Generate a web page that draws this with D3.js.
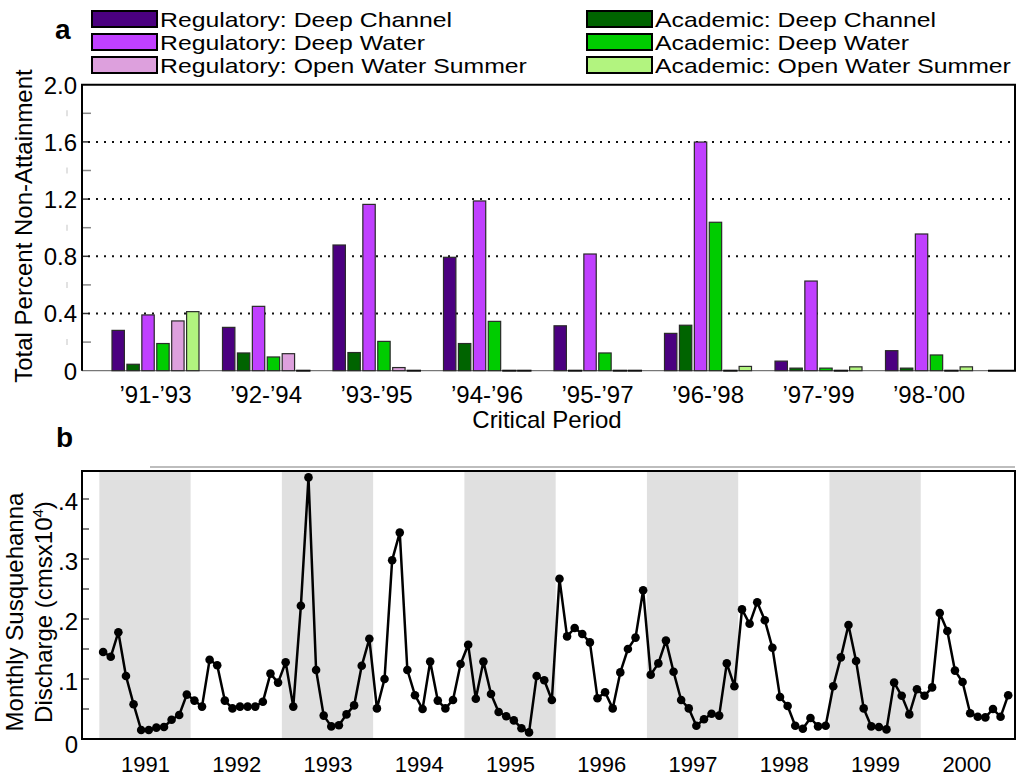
<!DOCTYPE html>
<html>
<head>
<meta charset="utf-8">
<script src="https://cdn.jsdelivr.net/npm/d3@7"></script>
<style>
  html, body { margin: 0; padding: 0; background: #fff; }
  svg { display: block; font-family: "Liberation Sans", Arial, Helvetica, sans-serif; }
</style>
</head>
<body>
<svg id="chart" width="1019" height="779"></svg>
<script>
// ---------- Panel a: non-attainment by critical period ----------
const periods = ["\u201991-\u201993", "\u201992-\u201994", "\u201993-\u201995", "\u201994-\u201996",
                 "\u201995-\u201997", "\u201996-\u201998", "\u201997-\u201999", "\u201998-\u201900"];
const regDeepChannel = [0.282, 0.303, 0.879, 0.793, 0.314, 0.261, 0.067, 0.140];
const acaDeepChannel = [0.045, 0.124, 0.127, 0.190, 0.000, 0.318, 0.018, 0.018];
const regDeepWater   = [0.390, 0.450, 1.163, 1.187, 0.816, 1.599, 0.627, 0.956];
const acaDeepWater   = [0.190, 0.096, 0.205, 0.345, 0.124, 1.038, 0.018, 0.110];
const regOpenWater   = [0.348, 0.119, 0.022, 0.000, 0.000, 0.000, 0.000, 0.000];
const acaOpenWater   = [0.413, 0.000, 0.000, 0.000, 0.000, 0.030, 0.027, 0.027];
const percentTicks = [0, 0.4, 0.8, 1.2, 1.6, 2.0];
const percentMinorTicks = [0.2, 0.6, 1.0, 1.4, 1.8];

// ---------- Panel b: monthly Susquehanna discharge (cms x 10^4) ----------
const dischargeYears = [1991, 1992, 1993, 1994, 1995, 1996, 1997, 1998, 1999, 2000];
const discharge1991 = [0.145, 0.137, 0.178, 0.105, 0.058, 0.015, 0.015, 0.019, 0.020, 0.032, 0.040, 0.074];
const discharge1992 = [0.064, 0.054, 0.132, 0.123, 0.064, 0.051, 0.054, 0.054, 0.054, 0.062, 0.109, 0.094];
const discharge1993 = [0.128, 0.054, 0.222, 0.436, 0.115, 0.039, 0.021, 0.023, 0.041, 0.056, 0.122, 0.167];
const discharge1994 = [0.051, 0.100, 0.298, 0.344, 0.115, 0.073, 0.050, 0.129, 0.064, 0.051, 0.065, 0.125];
const discharge1995 = [0.157, 0.067, 0.129, 0.075, 0.045, 0.038, 0.031, 0.018, 0.011, 0.105, 0.098, 0.065];
const discharge1996 = [0.267, 0.171, 0.185, 0.175, 0.161, 0.068, 0.078, 0.051, 0.111, 0.150, 0.169, 0.248];
const discharge1997 = [0.107, 0.126, 0.164, 0.112, 0.065, 0.051, 0.022, 0.033, 0.042, 0.039, 0.126, 0.088];
const discharge1998 = [0.216, 0.192, 0.228, 0.198, 0.152, 0.070, 0.055, 0.022, 0.017, 0.035, 0.021, 0.022];
const discharge1999 = [0.088, 0.136, 0.190, 0.130, 0.051, 0.021, 0.020, 0.016, 0.094, 0.072, 0.041, 0.083];
const discharge2000 = [0.072, 0.086, 0.210, 0.180, 0.114, 0.095, 0.043, 0.037, 0.036, 0.050, 0.037, 0.073];
const shadedYears = [1991, 1993, 1995, 1997, 1999];
const dischargeTicks = [0, 0.1, 0.2, 0.3, 0.4];
const dischargeMinorTicks = [0.05, 0.15, 0.25, 0.35];

const series = [
  { key: "regDC", label: "Regulatory: Deep Channel",      color: "#4b0080", values: regDeepChannel },
  { key: "acaDC", label: "Academic: Deep Channel",        color: "#006400", values: acaDeepChannel },
  { key: "regDW", label: "Regulatory: Deep Water",        color: "#c040ff", values: regDeepWater },
  { key: "acaDW", label: "Academic: Deep Water",          color: "#00cc00", values: acaDeepWater },
  { key: "regOW", label: "Regulatory: Open Water Summer", color: "#dda0dd", values: regOpenWater },
  { key: "acaOW", label: "Academic: Open Water Summer",   color: "#b2f47f", values: acaOpenWater }
];

const svg = d3.select("#chart");
const FS = 24;

// ================= Panel a =================
const aLeft = 82, aRight = 1015;
const yA = d3.scaleLinear().domain([0, 2]).range([370.7, 84.7]);
const xA = d3.scaleBand().domain(periods).range([100.25, 984.25]);
const xS = d3.scaleBand().domain(series.map(s => s.key)).range([11.75, 98.75]).paddingInner(0.17);

const gA = svg.append("g");

// faint marks outside the left axis
gA.selectAll("line.outer").data(percentMinorTicks).join("line")
  .attr("x1", 67).attr("x2", 67)
  .attr("y1", d => yA(d) - 3).attr("y2", d => yA(d) + 3)
  .attr("stroke", "#cfcfcf").attr("stroke-width", 1.2);

// dotted grid lines
gA.selectAll("line.grid").data(percentTicks.filter(d => d > 0 && d < 2)).join("line")
  .attr("x1", aLeft + 6).attr("x2", aRight)
  .attr("y1", d => yA(d)).attr("y2", d => yA(d))
  .attr("stroke", "#111").attr("stroke-width", 2).attr("stroke-dasharray", "2 6");

// inner ticks
gA.selectAll("line.major").data(percentTicks.filter(d => d > 0 && d < 2)).join("line")
  .attr("x1", aLeft).attr("x2", aLeft + 6)
  .attr("y1", d => yA(d)).attr("y2", d => yA(d))
  .attr("stroke", "#333").attr("stroke-width", 1.5);
gA.selectAll("line.minor").data(percentMinorTicks).join("line")
  .attr("x1", aLeft).attr("x2", aLeft + 9)
  .attr("y1", d => yA(d)).attr("y2", d => yA(d))
  .attr("stroke", "#888").attr("stroke-width", 1.5);

// baseline
gA.append("line")
  .attr("x1", aLeft).attr("x2", 988).attr("y1", yA(0)).attr("y2", yA(0))
  .attr("stroke", "#777").attr("stroke-width", 1.2);

// bars
const groups = gA.selectAll("g.period").data(periods).join("g")
  .attr("transform", d => `translate(${xA(d)},0)`);
groups.selectAll("rect").data((p, i) => series.filter(s => s.values[i] > 0).map(s => ({ s, v: s.values[i] })))
  .join("rect")
  .attr("x", d => xS(d.s.key))
  .attr("width", xS.bandwidth())
  .attr("y", d => yA(d.v))
  .attr("height", d => yA(0) - yA(d.v))
  .attr("fill", d => d.s.color)
  .attr("stroke", "#2a2a2a").attr("stroke-width", 1.2);
groups.selectAll("line.zero").data((p, i) => series.filter(s => s.values[i] === 0).map(s => ({ s })))
  .join("line")
  .attr("x1", d => xS(d.s.key) - 1).attr("x2", d => xS(d.s.key) + xS.bandwidth() + 1)
  .attr("y1", yA(0)).attr("y2", yA(0))
  .attr("stroke", "#111").attr("stroke-width", 2);

// frame (left, top, right and the closing corner)
gA.append("path")
  .attr("d", `M988,${yA(0)}H${aRight}V${yA(2)}H${aLeft}V${yA(0)}`)
  .attr("fill", "none").attr("stroke", "#000").attr("stroke-width", 2);

// y axis labels
const axA = gA.append("g").attr("transform", `translate(${aLeft},0)`)
  .call(d3.axisLeft(yA).tickValues(percentTicks).tickSize(0).tickPadding(5)
    .tickFormat(d => d === 0 ? "0" : d3.format(".1f")(d)));
axA.select(".domain").remove();
axA.selectAll("text").attr("font-size", FS).attr("fill", "#000").attr("font-family", null).attr("dy", "0.35em");

// category labels
const axAx = gA.append("g").attr("transform", `translate(0,${yA(0)})`)
  .call(d3.axisBottom(xA).tickSize(0).tickPadding(15));
axAx.select(".domain").remove();
axAx.selectAll("text").attr("font-size", FS).attr("fill", "#000").attr("font-family", null);

gA.append("text").attr("x", 547).attr("y", 428).attr("text-anchor", "middle")
  .attr("font-size", FS).text("Critical Period");
gA.append("text").attr("transform", "translate(32,226) rotate(-90)").attr("text-anchor", "middle")
  .attr("font-size", FS).text("Total Percent Non-Attainment");
svg.append("text").attr("x", 55).attr("y", 39).attr("font-size", 28).attr("font-weight", "bold").text("a");

// legend: wide lettering, tightly stacked rows
const legendOrder = ["regDC", "regDW", "regOW", "acaDC", "acaDW", "acaOW"];
const legend = svg.append("g").selectAll("g").data(legendOrder.map(k => series.find(s => s.key === k))).join("g")
  .attr("transform", (d, i) => `translate(${i < 3 ? 92 : 587},${[11, 34, 57][i % 3]})`);
legend.append("rect").attr("width", 65).attr("height", 16)
  .attr("fill", d => d.color).attr("stroke", "#000").attr("stroke-width", 2);
legend.append("text").attr("transform", "translate(68,16) scale(1.24,1)")
  .attr("font-size", 20).text(d => d.label);

// ================= Panel b =================
const bLeft = 82, bRight = 1015, bTop = 471, bBottom = 739;
const xB = d3.scaleLinear().domain([1990.81, 2001.033]).range([bLeft, bRight]);
const yB = d3.scaleLinear().domain([0, 0.445]).range([bBottom, 472]);
const monthly = [discharge1991, discharge1992, discharge1993, discharge1994, discharge1995,
                 discharge1996, discharge1997, discharge1998, discharge1999, discharge2000]
  .flatMap((vals, yi) => vals.map((v, m) => ({ t: dischargeYears[yi] + (m + 0.5) / 12, v })));

const gB = svg.append("g");

gB.append("line").attr("x1", 150).attr("x2", bRight).attr("y1", 467).attr("y2", 467)
  .attr("stroke", "#bdbdbd").attr("stroke-width", 2);

gB.selectAll("rect.band").data(shadedYears).join("rect")
  .attr("x", d => xB(d)).attr("width", d => xB(d + 1) - xB(d))
  .attr("y", bTop).attr("height", bBottom - bTop)
  .attr("fill", "#e0e0e0");

gB.selectAll("line.tick").data(dischargeTicks.filter(d => d > 0).concat(dischargeMinorTicks)).join("line")
  .attr("x1", bLeft).attr("x2", bLeft + 7)
  .attr("y1", d => yB(d)).attr("y2", d => yB(d))
  .attr("stroke", "#555").attr("stroke-width", 1.5);

gB.append("path").datum(monthly)
  .attr("d", d3.line().x(d => xB(d.t)).y(d => yB(d.v)))
  .attr("fill", "none").attr("stroke", "#000").attr("stroke-width", 2.5).attr("stroke-linejoin", "round");
gB.selectAll("circle").data(monthly).join("circle")
  .attr("cx", d => xB(d.t)).attr("cy", d => yB(d.v)).attr("r", 4.3).attr("fill", "#000");

gB.append("rect").attr("x", bLeft).attr("y", bTop).attr("width", bRight - bLeft).attr("height", bBottom - bTop)
  .attr("fill", "none").attr("stroke", "#000").attr("stroke-width", 2);

const axB = gB.append("g").attr("transform", `translate(${bLeft},0)`)
  .call(d3.axisLeft(yB).tickValues(dischargeTicks).tickSize(0).tickPadding(4)
    .tickFormat(d => d === 0 ? "0" : d3.format(".1f")(d).replace(/^0/, "")));
axB.select(".domain").remove();
axB.selectAll("text").attr("font-size", FS).attr("fill", "#000").attr("font-family", null)
  .attr("dy", d => d === 0 ? "0.55em" : "0.42em");

const axBx = gB.append("g").attr("transform", `translate(0,${bBottom})`)
  .call(d3.axisBottom(xB).tickValues(dischargeYears.map(y => y + 0.5)).tickSize(0).tickPadding(17)
    .tickFormat(d => String(Math.floor(d))));
axBx.select(".domain").remove();
axBx.selectAll("text").attr("font-size", 22).attr("fill", "#000").attr("font-family", null);

const titleB = gB.append("text").attr("transform", "translate(0,612) rotate(-90)")
  .attr("text-anchor", "middle").attr("font-size", FS);
titleB.append("tspan").attr("x", 0).attr("y", 23).text("Monthly Susquehanna");
const line2 = titleB.append("tspan").attr("x", 0).attr("y", 52);
line2.append("tspan").text("Discharge (cmsx10");
line2.append("tspan").attr("font-size", 15).attr("dy", -9).text("4");
line2.append("tspan").attr("dy", 9).text(")");

svg.append("text").attr("x", 56).attr("y", 447).attr("font-size", 28).attr("font-weight", "bold").text("b");
</script>
</body>
</html>
